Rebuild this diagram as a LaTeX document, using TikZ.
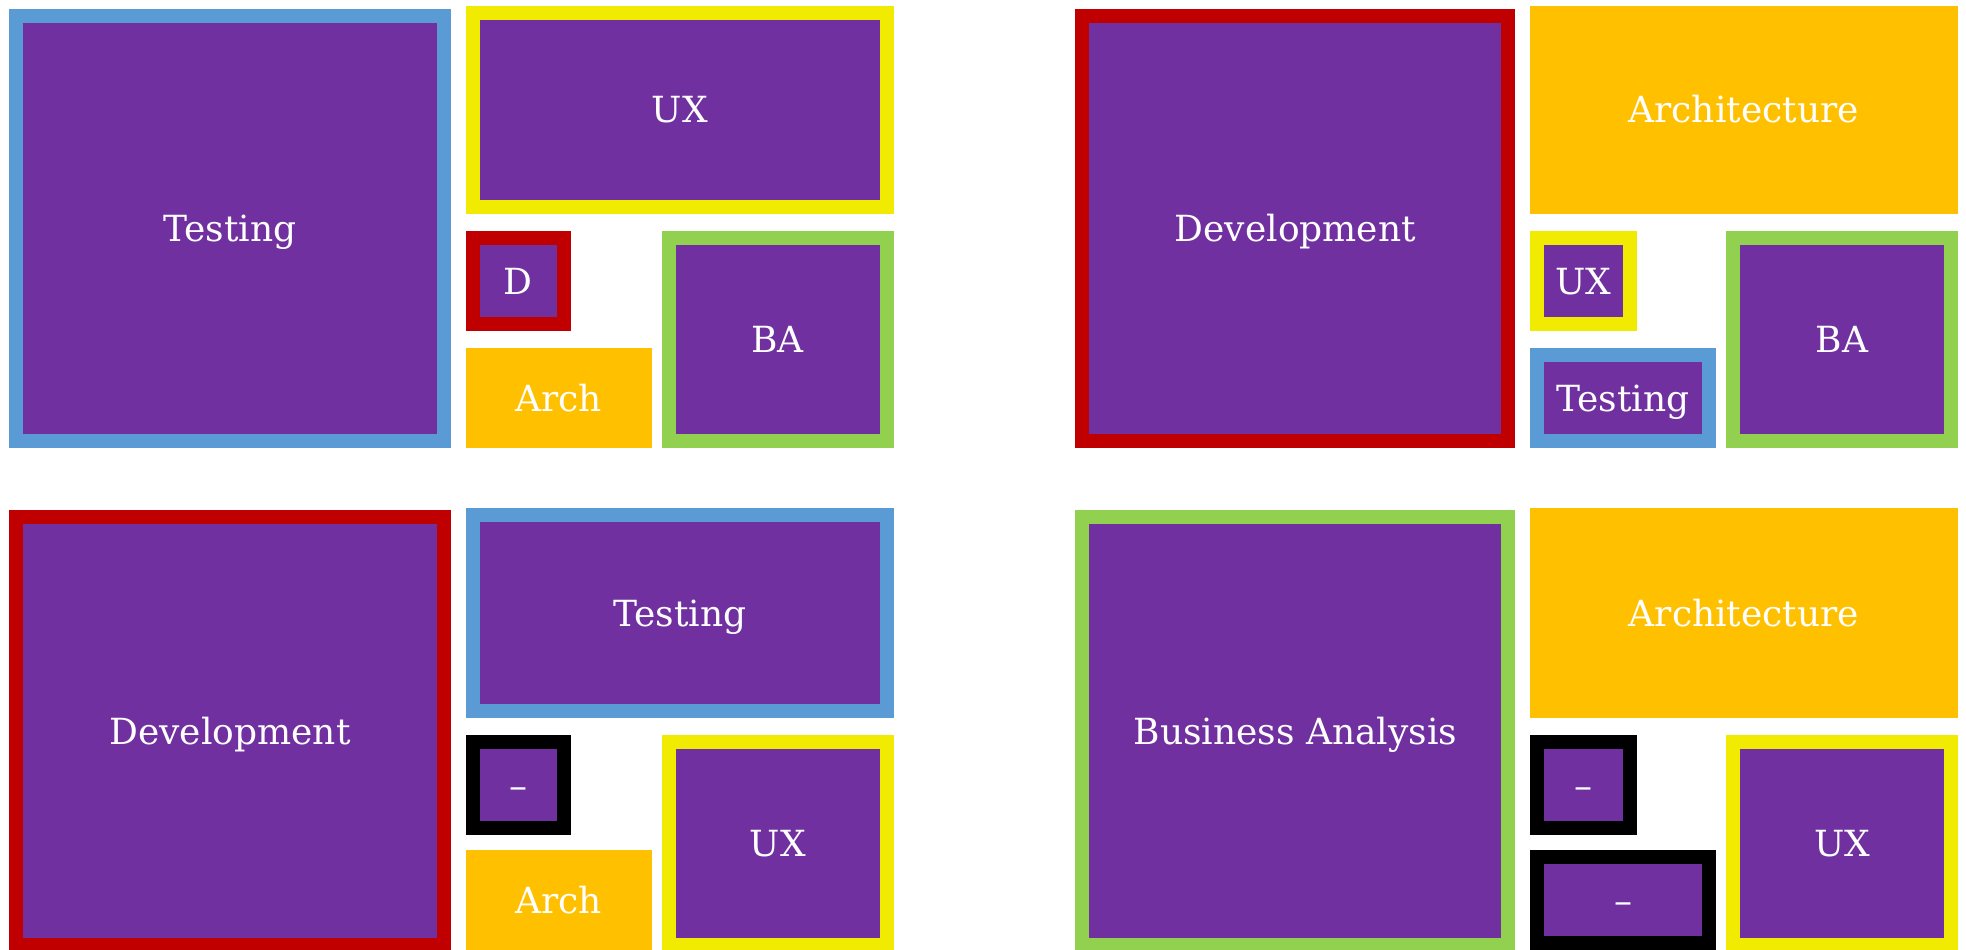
\documentclass[tikz,border=0pt]{standalone}
\usepackage{fontspec}
\setmainfont{DejaVu Serif}
\definecolor{purp}{HTML}{7030A0}
\definecolor{bblue}{HTML}{5B9BD5}
\definecolor{yyellow}{HTML}{F0EB00}
\definecolor{rred}{HTML}{C00000}
\definecolor{ggreen}{HTML}{92D050}
\definecolor{oorange}{HTML}{FFC000}
\begin{document}
\begin{tikzpicture}[x=1pt,y=-1pt,
  lbl/.style={text=white, font=\fontsize{36}{43}\selectfont, inner sep=0pt, outer sep=0pt,
              text height=26.2pt, text depth=0pt, anchor=center},
  framed/.style={lbl, draw=#1, line width=14pt, fill=purp},
  plainbox/.style={lbl, fill=#1},
  sz/.style 2 args={minimum width=#1pt, minimum height=#2pt},
]
\useasboundingbox (0,0) rectangle (1966,950);

% ---------- top-left panel ----------
\node[framed=bblue,   sz={428}{425}]   (tTest) at (230,228.5)    {Testing};
\node[framed=yyellow, sz={414}{193.7}] (tUX)   at (679.7,109.85) {UX};
\node[framed=rred,    sz={91}{86}]     (tD)    at (518.2,281)    {D};
\node[plainbox=oorange, sz={186.3}{100}] (tArch) at (558.85,398) {Arch};
\node[framed=ggreen,  sz={218}{203}]   (tBA)   at (777.7,339.5)  {BA};

% ---------- top-right panel ----------
\node[framed=rred,    sz={426}{425}]   (rDev)  at (1295.3,228.5) {Development};
\node[plainbox=oorange, sz={428}{207.7}] (rArch) at (1743.7,109.85) {Architecture};
\node[framed=yyellow, sz={93}{86}]     (rUX)   at (1583.5,281)   {UX};
\node[framed=bblue,   sz={172}{86}]    (rTest) at (1623,398)     {Testing};
\node[framed=ggreen,  sz={218}{203}]   (rBA)   at (1842,339.5)   {BA};

% ---------- bottom-left panel ----------
\node[framed=rred,    sz={428}{428}]   (bDev)  at (230,731)      {Development};
\node[framed=bblue,   sz={414}{196.3}] (bTest) at (679.7,613.15) {Testing};
\node[framed=black,   sz={91}{86.3}]   (bDash) at (518.2,785.15) {–};
\node[plainbox=oorange, sz={186.3}{100}] (bArch) at (558.85,900) {Arch};
\node[framed=yyellow, sz={218}{203}]   (bUX)   at (777.7,843.5)  {UX};

% ---------- bottom-right panel ----------
\node[framed=ggreen,  sz={426}{428}]   (qBA)   at (1295.3,731)   {Business Analysis};
\node[plainbox=oorange, sz={428}{210.3}] (qArch) at (1744,613.15) {Architecture};
\node[framed=black,   sz={93}{86.3}]   (qDashA) at (1583.5,785.15) {–};
\node[framed=black,   sz={172}{86}]    (qDashB) at (1623,900)    {–};
\node[framed=yyellow, sz={218}{203}]   (qUX)   at (1842,843.5)   {UX};
\end{tikzpicture}
\end{document}
